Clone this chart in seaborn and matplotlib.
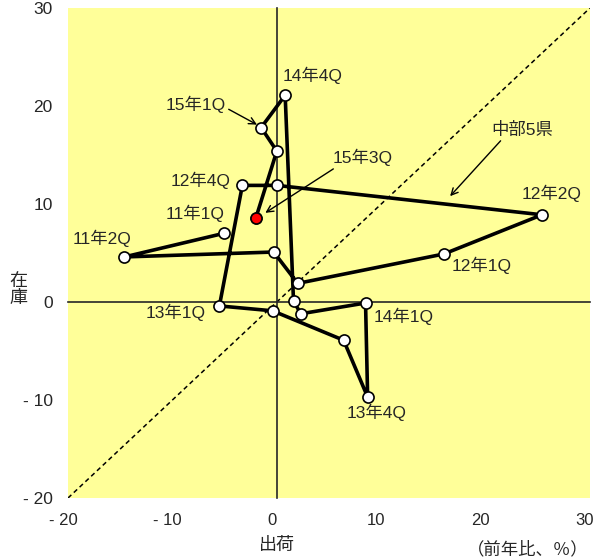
import matplotlib
matplotlib.use("Agg")
import matplotlib.pyplot as plt
import matplotlib.transforms as mtransforms
import seaborn as sns
import pandas as pd

# -------------------------
# Data (前年比, %)
# -------------------------
quarters = ['11年1Q', '11年2Q', '11年3Q', '11年4Q',
            '12年1Q', '12年2Q', '12年3Q', '12年4Q',
            '13年1Q', '13年2Q', '13年3Q', '13年4Q',
            '14年1Q', '14年2Q', '14年3Q', '14年4Q',
            '15年1Q', '15年2Q', '15年3Q']
shipments = [-5.1, -14.6, -0.3, 2.0,
             16.0, 25.4, 0.0, -3.3,
             -5.5, -0.4, 6.4, 8.7,
             8.5, 2.3, 1.6, 0.8,
             -1.5, 0.0, -2.0]
inventory = [7.0, 4.6, 5.1, 1.9,
             4.9, 8.9, 11.9, 11.9,
             -0.4, -0.9, -3.9, -9.7,
             -0.1, -1.2, 0.1, 21.1,
             17.8, 15.4, 8.6]

axis_ticks = [-20, -10, 0, 10, 20, 30]
x_tick_labels = ['- 20', '- 10', '0', '10', '20', '30']
y_tick_labels = ['- 20', '- 10', '0', '10', '20', '30']

# labels shown on the chart (quarter, text x, text y)
plain_labels = [('11年1Q', -7.8, 9.0), ('11年2Q', -16.7, 6.5),
                ('12年1Q', 19.6, 3.7), ('12年2Q', 26.3, 11.1),
                ('12年4Q', -7.3, 12.4), ('13年1Q', -9.7, -1.1),
                ('13年4Q', 9.6, -11.3), ('14年1Q', 12.1, -1.5),
                ('14年4Q', 3.4, 23.1)]

df = pd.DataFrame({'quarter': quarters, 'shipments': shipments,
                   'inventory': inventory})

# -------------------------
# Plot
# -------------------------
sns.set_style('white')
plt.rcParams['font.family'] = ['Liberation Sans', 'Noto Sans CJK JP', 'DejaVu Sans']

fig = plt.figure(figsize=(5.95, 5.6), dpi=100)
ax = fig.add_axes([0.1143, 0.1107, 0.8773, 0.875])
ax.set_facecolor('#FFFF99')

ax.set_xlim(-20, 30)
ax.set_ylim(-20, 30)

# 45 degree line
ax.plot([-20, 30], [-20, 30], color='black', lw=1.1, ls=(0, (3, 2.2)), zorder=2)

sns.lineplot(data=df, x='shipments', y='inventory', sort=False, estimator=None,
             color='black', lw=2.6, marker='o', markersize=8,
             markerfacecolor='white', markeredgecolor='black',
             markeredgewidth=1.2, ax=ax, zorder=4)

sns.scatterplot(data=df.tail(1), x='shipments', y='inventory', color='red',
                edgecolor='black', linewidth=1.0, s=60, ax=ax, zorder=5)

# zero axes with inward ticks
for side in ['top', 'right']:
    ax.spines[side].set_visible(False)
ax.spines['left'].set_position(('data', 0))
ax.spines['bottom'].set_position(('data', 0))
ax.spines['left'].set_linewidth(1.2)
ax.spines['bottom'].set_linewidth(1.2)
ax.spines['left'].set_zorder(3)
ax.spines['bottom'].set_zorder(3)
ax.set_xticks(axis_ticks)
ax.set_yticks(axis_ticks)
ax.tick_params(direction='in', length=5, width=1, labelbottom=False,
               labelleft=False)
ax.set_xlabel('')
ax.set_ylabel('')

# tick labels on the outside edges
secx = ax.secondary_xaxis(0)
secx.set_xticks(axis_ticks, x_tick_labels)
secx.tick_params(length=0, labelsize=12, pad=11)
secx.spines['bottom'].set_visible(False)
shift = mtransforms.ScaledTranslation(-5 / 100, 0, fig.dpi_scale_trans)
for lbl in secx.get_xticklabels():
    lbl.set_transform(lbl.get_transform() + shift)

secy = ax.secondary_yaxis(0)
secy.set_yticks(axis_ticks, y_tick_labels)
secy.tick_params(length=0, labelsize=12.5, pad=11)
secy.spines['left'].set_visible(False)

# point labels
for name, tx, ty in plain_labels:
    ax.text(tx, ty, name, fontsize=12.5, ha='center', va='center', zorder=6)

arrow = dict(arrowstyle='->', color='black', lw=1.0, mutation_scale=12,
             shrinkA=0, shrinkB=0)
i15q1 = quarters.index('15年1Q')
ax.annotate('15年1Q', xy=(shipments[i15q1] - 0.4, inventory[i15q1] + 0.3),
            xytext=(-7.8, 20.2), fontsize=12.5, ha='center', va='center',
            arrowprops=dict(arrow, relpos=(1.0, 0.3)), zorder=6)
i15q3 = quarters.index('15年3Q')
ax.annotate('15年3Q', xy=(shipments[i15q3] + 0.9, inventory[i15q3] + 0.5),
            xytext=(8.2, 14.8), fontsize=12.5, ha='center', va='center',
            arrowprops=dict(arrow, relpos=(0.1, 0.0)), zorder=6)
ax.annotate('中部5県', xy=(16.6, 10.8), xytext=(23.5, 17.6), fontsize=12.5,
            ha='center', va='center',
            arrowprops=dict(arrow, relpos=(0.2, 0.0)), zorder=6)

# axis titles
fig.text(277 / 595, 1 - 545 / 560, '出荷', fontsize=13, ha='center', va='center')
fig.text(528 / 595, 1 - 549 / 560, '（前年比、％）', fontsize=12.5, ha='center',
         va='center')
fig.text(18 / 595, 1 - 290 / 560, '在\n庫', fontsize=13, ha='center',
         va='center', linespacing=1.0)

fig.savefig('out.png', dpi=100)
plt.close(fig)
